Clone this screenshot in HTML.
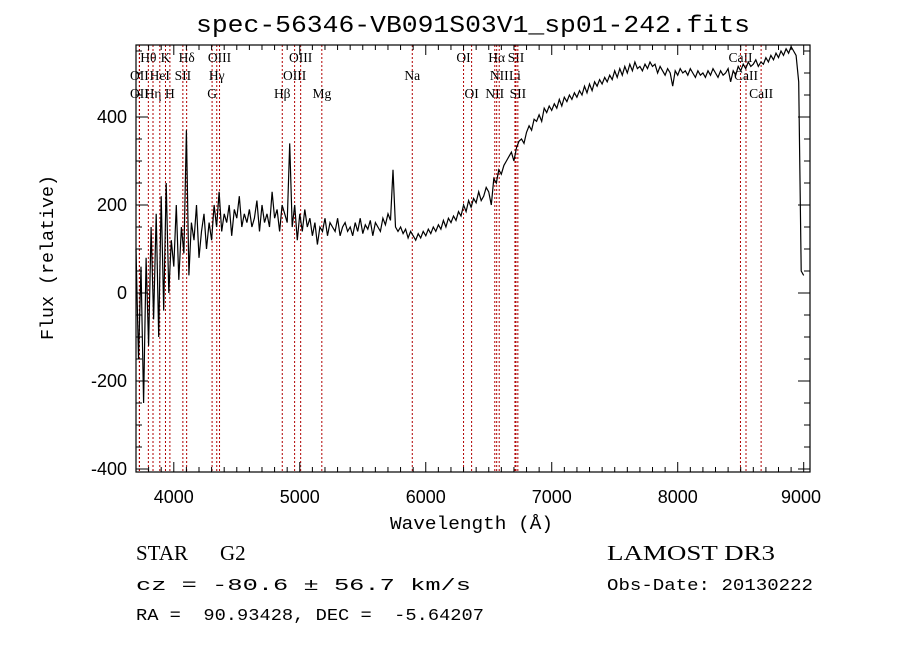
<!DOCTYPE html>
<html><head><meta charset="utf-8"><style>
body{margin:0;background:#fff;width:900px;height:649px;overflow:hidden}
svg{display:block}
</style></head><body>
<svg id="chart" width="900" height="649" viewBox="0 0 900 649" xmlns="http://www.w3.org/2000/svg" font-family="Liberation Mono, monospace">
<rect width="900" height="649" fill="#fff"/>
<text x="196" y="32" font-size="24" textLength="554" lengthAdjust="spacingAndGlyphs">spec-56346-VB091S03V1_sp01-242.fits</text>
<g id="lines"></g>
<g id="ticks"></g>
<rect x="136" y="45" width="674" height="427" fill="none" stroke="#000" stroke-width="1.2"/>
<text x="390" y="529" font-size="18" textLength="163" lengthAdjust="spacingAndGlyphs">Wavelength (Å)</text>
<text transform="translate(53,340) rotate(-90)" font-size="18" textLength="165" lengthAdjust="spacingAndGlyphs">Flux (relative)</text>
<text x="136" y="560" font-size="21" font-family="Liberation Serif, serif">STAR</text>
<text x="220" y="560" font-size="21" font-family="Liberation Serif, serif">G2</text>
<text x="136" y="590" font-size="17" textLength="335" lengthAdjust="spacingAndGlyphs">cz = -80.6 ± 56.7 km/s</text>
<text x="136" y="620" font-size="17" xml:space="preserve" textLength="348" lengthAdjust="spacingAndGlyphs">RA =  90.93428, DEC =  -5.64207</text>
<text x="607" y="560" font-size="21" font-family="Liberation Serif, serif" textLength="168" lengthAdjust="spacingAndGlyphs">LAMOST DR3</text>
<text x="607" y="590" font-size="17" textLength="206" lengthAdjust="spacingAndGlyphs">Obs-Date: 20130222</text>
</svg>
<script>
const xTicks=[4000,5000,6000,7000,8000,9000];
const yTicks=[-400,-200,0,200,400];
const lineNames=["OII","OII","Hθ","Hη","HeI","K","H","SII","Hδ","G","Hγ","OIII","Hβ","OIII","OIII","Mg","Na","OI","OI","NII","Hα","NII","Li","SII","SII","CaII","CaII","CaII"];
const lineWaves=[3727,3727,3798,3835,3889,3934,3969,4072,4102,4304,4341,4363,4861,4959,5007,5175,5893,6300,6364,6548,6563,6583,6708,6716,6731,8498,8542,8662];
const lineRows=[1,2,0,2,1,0,2,1,0,2,1,0,2,1,0,2,1,0,2,2,0,1,1,0,2,0,1,2];
const fluxStart=3700;
const fluxStep=20;
const fluxValues=[100,-150,60,-250,80,-120,150,-60,180,-100,220,-40,250,0,120,
60,200,30,150,90,370,40,160,120,200,80,140,180,100,160,
120,200,150,230,140,180,160,200,130,190,170,220,150,180,160,
190,150,170,210,140,200,160,180,150,230,170,190,140,200,180,160,340,150,200,120,
180,140,190,150,170,130,160,110,150,140,170,130,160,150,140,170,130,150,160,140,
150,130,160,140,170,135,155,145,165,130,160,150,140,170,155,180,165,280,150,140,
150,135,145,125,140,130,120,135,125,140,130,145,135,150,140,155,145,165,150,170,
160,175,165,185,175,200,185,210,195,215,205,230,210,220,240,230,200,260,250,280,
270,290,300,310,320,300,330,345,350,340,365,380,370,395,390,405,390,420,410,425,
415,430,420,440,425,445,435,450,440,455,445,460,450,470,455,475,460,480,470,485,
475,490,480,495,485,505,490,510,495,515,500,520,505,525,510,515,505,520,510,525,
515,520,500,515,505,495,510,500,470,505,495,510,500,505,495,510,500,490,505,495,
500,490,505,495,510,500,490,505,495,500,510,480,505,495,515,505,520,510,525,515,
520,530,515,525,520,535,525,540,530,545,535,550,540,555,545,560,550,540,480,50,40];
const NS='http://www.w3.org/2000/svg';
const X0=136,X1=810,Y0=45,Y1=472,WMIN=3700,WMAX=9050;
function xs(w){return X0+(w-WMIN)/(WMAX-WMIN)*(X1-X0);}
function ys(f){return 293-f*0.44;}
function el(t,a,p){const e=document.createElementNS(NS,t);for(const k in a)e.setAttribute(k,a[k]);p.appendChild(e);return e;}
const svg=document.getElementById('chart');
const L=document.getElementById('lines'),T=document.getElementById('ticks');
lineWaves.forEach((w,i)=>{
  const x=xs(w);
  const ln=el('line',{x1:x,x2:x,y1:Y0,y2:Y1,stroke:'#b00000','stroke-width':1,'stroke-dasharray':'2,2'},L);
  
  
  const tx=el('text',{x:x,y:62+lineRows[i]*18,'font-size':13.5,'text-anchor':'middle','font-family':'Liberation Serif, serif'},L);
  tx.textContent=lineNames[i];
  
  
});
for(let w=3800;w<=9000;w+=100){const x=xs(w);const big=w%1000===0;const h=big?10:5;
  el('line',{x1:x,x2:x,y1:Y1,y2:Y1-h,stroke:'#000'},T);el('line',{x1:x,x2:x,y1:Y0,y2:Y0+h,stroke:'#000'},T);}
for(let f=-400;f<=550;f+=50){const y=ys(f);const big=f%200===0;const h=big?12:6;
  el('line',{x1:X0,x2:X0+h,y1:y,y2:y,stroke:'#000'},T);el('line',{x1:X1,x2:X1-h,y1:y,y2:y,stroke:'#000'},T);}
xTicks.forEach(w=>{const t=el('text',{x:Math.min(xs(w),801),y:503,'font-size':18,'text-anchor':'middle','font-family':'Liberation Sans, sans-serif'},T);t.textContent=w;
  
  });
yTicks.forEach(f=>{const t=el('text',{x:127,y:ys(f)+6,'font-size':18,'text-anchor':'end','font-family':'Liberation Sans, sans-serif'},T);t.textContent=f;
  
  });
const pts=fluxValues.map((v,i)=>xs(fluxStart+i*fluxStep).toFixed(1)+','+ys(v).toFixed(1)).join(' ');
const pl=el('polyline',{points:pts,fill:'none',stroke:'#000','stroke-width':1.2},svg);


</script>
</body></html>
